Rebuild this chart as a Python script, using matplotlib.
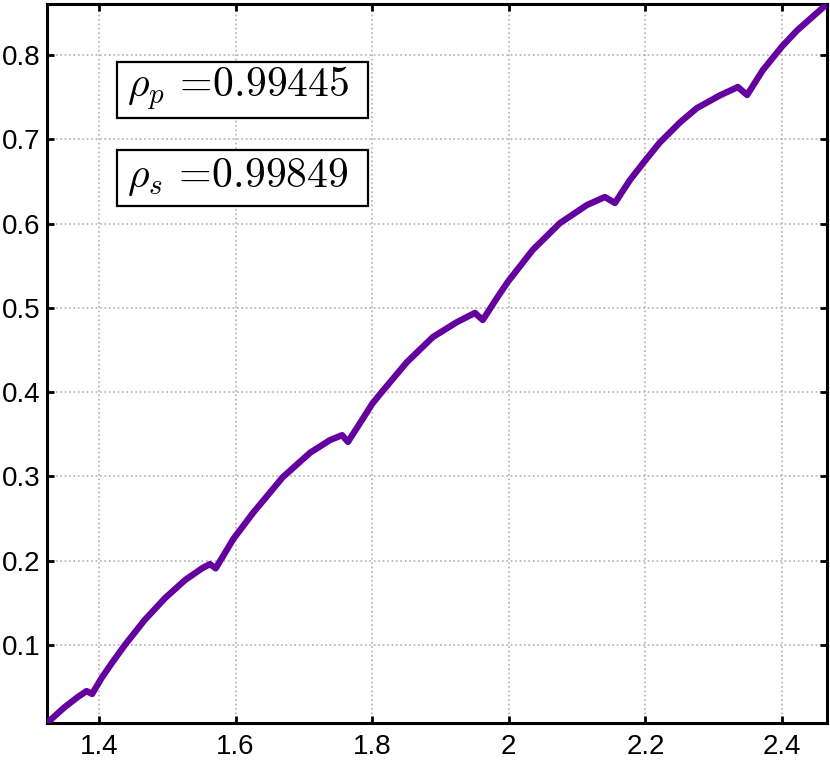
import numpy as np
import matplotlib
matplotlib.use("Agg")
import matplotlib.pyplot as plt
from matplotlib.patches import Rectangle

# curve (x, y)
x_vals = [1.324, 1.350, 1.369, 1.382, 1.390, 1.404, 1.419, 1.438,
          1.467, 1.497, 1.526, 1.551, 1.5625, 1.571,
          1.597, 1.6255, 1.669, 1.709, 1.738, 1.756, 1.7646,
          1.786, 1.800, 1.814, 1.851, 1.889, 1.924, 1.9505, 1.962,
          1.983, 1.9988, 2.035, 2.075, 2.1145, 2.1408, 2.1555,
          2.1775, 2.199, 2.221, 2.2507, 2.2755, 2.309, 2.3355, 2.349,
          2.372, 2.400, 2.422, 2.466]
y_vals = [0.0075, 0.0264, 0.0383, 0.0454, 0.0419, 0.061, 0.0787, 0.100,
          0.1297, 0.1558, 0.177, 0.191, 0.196, 0.191,
          0.226, 0.2566, 0.299, 0.328, 0.343, 0.349, 0.341,
          0.368, 0.386, 0.400, 0.4357, 0.4654, 0.483, 0.494, 0.4856,
          0.512, 0.531, 0.5686, 0.6006, 0.622, 0.6315, 0.6244,
          0.6517, 0.674, 0.696, 0.720, 0.737, 0.752, 0.762, 0.7525,
          0.782, 0.810, 0.829, 0.8605]

x_ticks = [1.4, 1.6, 1.8, 2.0, 2.2, 2.4]
x_tick_labels = ["1.4", "1.6", "1.8", "2", "2.2", "2.4"]
y_ticks = [0.1, 0.2, 0.3, 0.4, 0.5, 0.6, 0.7, 0.8]
y_tick_labels = ["0.1", "0.2", "0.3", "0.4", "0.5", "0.6", "0.7", "0.8"]

rho_labels = [r"$\rho_p\,=\!0.99445$", r"$\rho_s\,=\!0.99849$"]

plt.rcParams['font.family'] = ['Liberation Sans', 'DejaVu Sans']
plt.rcParams['mathtext.fontset'] = 'cm'

fig = plt.figure(figsize=(8.3, 7.7), dpi=100)
ax = fig.add_axes([47/830, 1 - 723/770, 780/830, 719/770])

ax.plot(x_vals, y_vals, color='#6400a0', lw=4.6, solid_capstyle='butt',
        solid_joinstyle='round', zorder=3)

ax.set_xlim(x_vals[0], x_vals[-1])
ax.set_ylim(y_vals[0], y_vals[-1])
ax.set_xticks(x_ticks)
ax.set_xticklabels(x_tick_labels)
ax.set_yticks(y_ticks)
ax.set_yticklabels(y_tick_labels)

ax.grid(True, color='#b0b0b0', linestyle=':', lw=1.2)
ax.tick_params(direction='in', length=5, width=2, labelsize=20,
               top=True, right=True, pad=8)
ax.tick_params(axis='y', pad=5)
for s in ax.spines.values():
    s.set_linewidth(2.2)

# text boxes (axes coords)
box_tops = [0.919, 0.797]
baselines = [0.8707, 0.7455]
for top, base, lab in zip(box_tops, baselines, rho_labels):
    ax.add_patch(Rectangle((0.0897, top - 0.078), 0.3218, 0.078,
                           transform=ax.transAxes, fc='white', ec='black',
                           lw=1.6, zorder=4))
    ax.text(0.1026, base, lab, transform=ax.transAxes, fontsize=30,
            ha='left', va='baseline', zorder=5)

fig.savefig("out.png", dpi=100)
